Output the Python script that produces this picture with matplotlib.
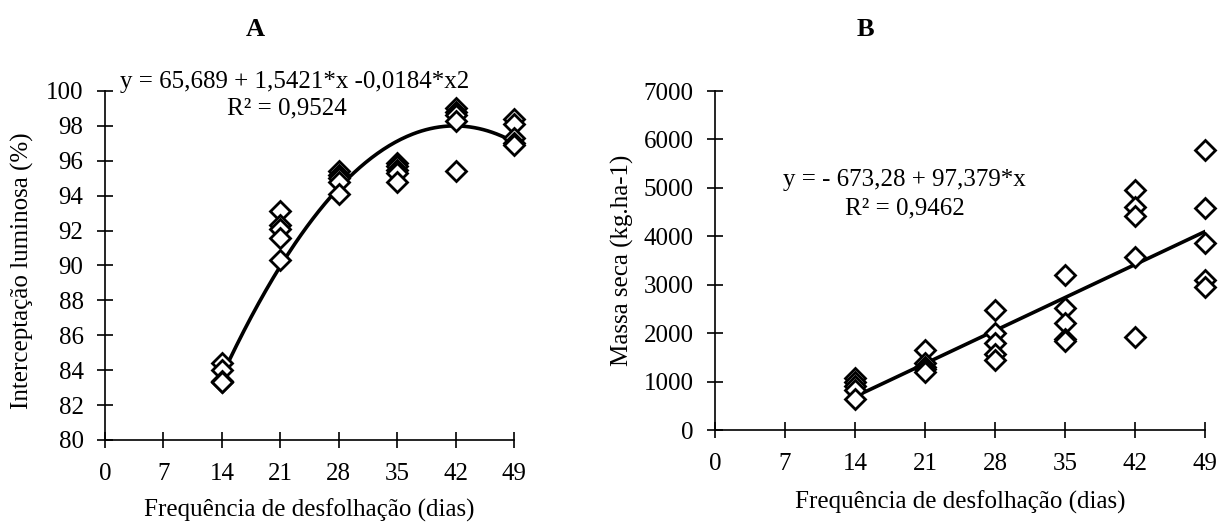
import matplotlib
matplotlib.use("Agg")
import matplotlib.pyplot as plt
import numpy as np

plt.rcParams['font.family'] = ['Liberation Serif', 'DejaVu Serif']

# Data
days = [14, 21, 28, 35, 42, 49]
ticks_x = [0, 7, 14, 21, 28, 35, 42, 49]

# Panel A: light interception (%) - 5 replicates per frequency
li_values = [
    [84.4, 84.0, 83.4, 83.3, 83.3],
    [93.1, 92.3, 92.1, 91.6, 90.3],
    [95.4, 95.2, 95.0, 94.8, 94.1],
    [95.9, 95.7, 95.5, 95.3, 94.8],
    [99.0, 98.8, 98.6, 98.3, 95.4],
    [98.4, 98.1, 97.3, 97.0, 96.9],
]
li_coef = [65.689, 1.5421, -0.0184]  # y = a + b*x + c*x^2
li_eq = "y = 65,689 + 1,5421*x -0,0184*x2"
li_r2 = "R² = 0,9524"

# Panel B: dry mass (kg/ha)
dm_values = [
    [1080, 1000, 900, 820, 650],
    [1650, 1380, 1310, 1250, 1200],
    [2480, 2000, 1800, 1580, 1450],
    [3200, 2520, 2200, 1880, 1830],
    [4950, 4610, 4420, 3580, 1920],
    [5790, 4580, 3870, 3100, 2960],
]
dm_coef = [-673.28, 97.379]
dm_eq = "y = - 673,28 + 97,379*x"
dm_r2 = "R² = 0,9462"

fig = plt.figure(figsize=(12.2, 5.22), dpi=100)
axA = fig.add_axes([0.0861, 0.1571, 0.3352, 0.6686])
axB = fig.add_axes([0.5861, 0.1762, 0.4016, 0.6494])

FS = 18


def style(ax):
    for s in ['top', 'right']:
        ax.spines[s].set_visible(False)
    for s in ['left', 'bottom']:
        ax.spines[s].set_linewidth(1.2)
    ax.tick_params(direction='inout', length=11, width=1.2, labelsize=FS)
    ax.tick_params(axis='y', pad=10)
    ax.tick_params(axis='x', pad=11)
    ax.set_xlim(0, 49)
    ax.set_xticks(ticks_x)


def scatter(ax, vals):
    xs = np.repeat(days, [len(v) for v in vals])
    ys = np.concatenate(vals)
    ax.plot(xs, ys, linestyle='none', marker='D', markersize=10,
            markerfacecolor='white', markeredgecolor='black',
            markeredgewidth=2.0, clip_on=False, zorder=3)


def px(x, y):
    return x / 1220, 1 - y / 522


# Panel A
style(axA)
axA.set_ylim(80, 100)
axA.set_yticks(np.arange(80, 101, 2))
xf = np.linspace(days[0], days[-1], 200)
axA.plot(xf, li_coef[0] + li_coef[1] * xf + li_coef[2] * xf ** 2,
         color='black', lw=2.6, zorder=2)
scatter(axA, li_values)
axA.set_xlabel("Frequência de desfolhação (dias)", fontsize=FS)
axA.xaxis.label.set_va('center')
axA.xaxis.set_label_coords(0.5, -0.2006)
axA.set_ylabel("Interceptação luminosa (%)", fontsize=FS)
axA.yaxis.label.set_va('center')
axA.yaxis.set_label_coords(-0.203, 0.484)
fig.text(*px(120, 82), li_eq, fontsize=FS, ha='left', va='center')
fig.text(*px(287, 108), li_r2, fontsize=FS, ha='center', va='center')
fig.text(*px(255, 30), "A", fontsize=FS + 1, fontweight='bold',
         ha='center', va='center')

# Panel B
style(axB)
axB.set_ylim(0, 7000)
axB.set_yticks(np.arange(0, 7001, 1000))
xl = np.array([days[0], days[-1]], dtype=float)
axB.plot(xl, dm_coef[0] + dm_coef[1] * xl, color='black', lw=2.6, zorder=2)
scatter(axB, dm_values)
axB.set_xlabel("Frequência de desfolhação (dias)", fontsize=FS)
axB.xaxis.label.set_va('center')
axB.xaxis.set_label_coords(0.5, -0.212)
axB.set_ylabel("Massa seca (kg.ha-1)", fontsize=FS)
axB.yaxis.label.set_va('center')
axB.yaxis.set_label_coords(-0.188, 0.5)
fig.text(*px(904, 180), dm_eq, fontsize=FS, ha='center', va='center')
fig.text(*px(905, 208), dm_r2, fontsize=FS, ha='center', va='center')
fig.text(*px(865, 30), "B", fontsize=FS + 1, fontweight='bold',
         ha='center', va='center')

fig.savefig("out.png", dpi=100)
